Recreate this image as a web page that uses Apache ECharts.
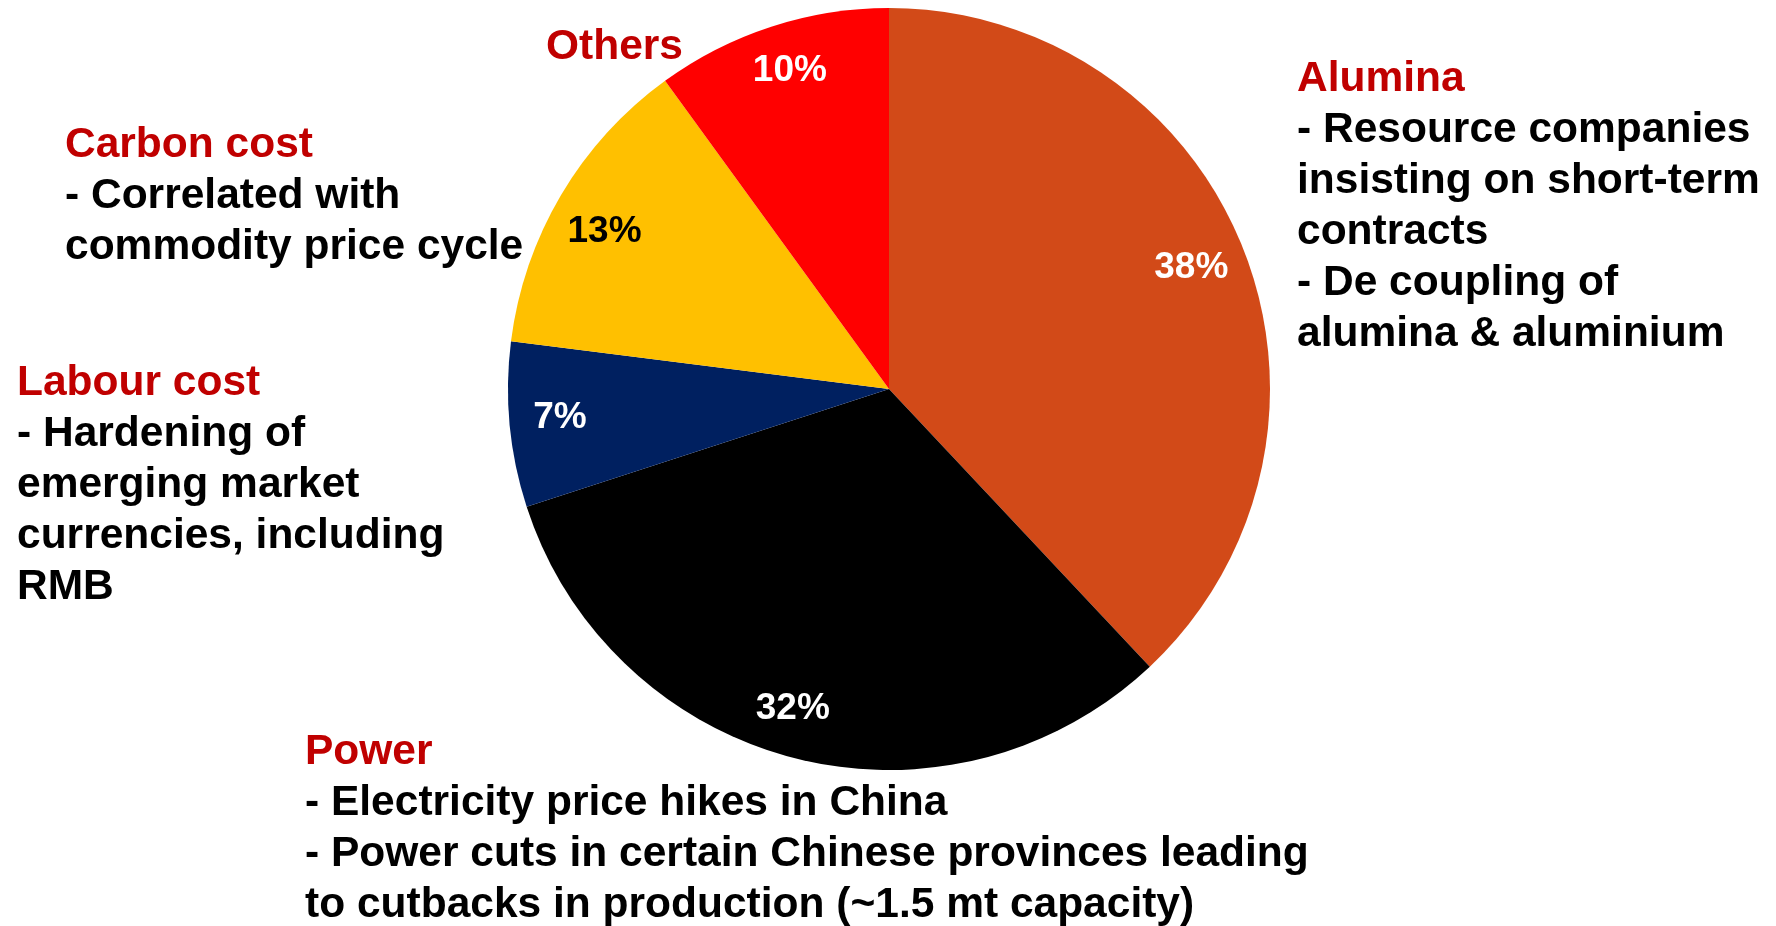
<!DOCTYPE html>
<html>
<head>
<meta charset="utf-8">
<script src="https://cdn.jsdelivr.net/npm/echarts@6/dist/echarts.min.js"></script>
<style>
  html, body { margin: 0; padding: 0; background: #ffffff; }
  #chart { width: 1776px; height: 926px; }
</style>
</head>
<body>
<div id="chart"></div>
<script>
// Cost drivers, share of total (%), clockwise from 12 o'clock
const categories = ['Alumina', 'Power', 'Labour cost', 'Carbon cost', 'Others'];
const shares = [38, 32, 7, 13, 10];

// Annotation text for each driver: heading and its bullet lines
const aluminaNotes = ['- Resource companies', 'insisting on short-term', 'contracts', '- De coupling of', 'alumina & aluminium'];
const powerNotes = ['- Electricity price hikes in China', '- Power cuts in certain Chinese provinces leading', 'to cutbacks in production (~1.5 mt capacity)'];
const labourNotes = ['- Hardening of', 'emerging market', 'currencies, including', 'RMB'];
const carbonNotes = ['- Correlated with', 'commodity price cycle'];
const othersNotes = [];

// Styling
const sliceColors = ['#D24A18', '#000000', '#002060', '#FFC000', '#FF0000'];
const labelColors = ['#ffffff', '#ffffff', '#ffffff', '#000000', '#ffffff'];
const labelNudge = [[-5, 0], [-14, 0], [0, -2], [0, 11], [3, -4]];
const FONT = '"Liberation Sans", Arial, Helvetica, sans-serif';
const CENTER = [889, 389];
const R = 381;

const chart = echarts.init(document.getElementById('chart'), null, { renderer: 'canvas' });

const sliceData = categories.map((name, i) => ({
  name,
  value: shares[i],
  itemStyle: { color: sliceColors[i] }
}));

const labelData = categories.map((name, i) => ({
  name,
  value: shares[i],
  label: { color: labelColors[i], offset: labelNudge[i] }
}));

function noteBlock(title, lines, x, y) {
  const text = ['{t|' + title + '}'].concat(lines.map(l => '{b|' + l + '}')).join('\n');
  return {
    type: 'text',
    left: x,
    top: y,
    silent: true,
    style: {
      text,
      font: 'bold 42.5px ' + FONT,
      rich: {
        t: { fontFamily: FONT, fontWeight: 'bold', fontSize: 42.5, lineHeight: 51, fill: '#C00000' },
        b: { fontFamily: FONT, fontWeight: 'bold', fontSize: 42.5, lineHeight: 51, fill: '#000000' }
      }
    }
  };
}

chart.setOption({
  backgroundColor: '#ffffff',
  animation: false,
  series: [
    {
      // the pie slices
      type: 'pie',
      center: CENTER,
      radius: [0, R],
      startAngle: 90,
      clockwise: true,
      silent: true,
      label: { show: false },
      labelLine: { show: false },
      itemStyle: { borderWidth: 0 },
      emphasis: { disabled: true },
      data: sliceData
    },
    {
      // transparent ring that carries the percentage labels near the rim
      type: 'pie',
      center: CENTER,
      radius: [Math.round(R * 0.72), R],
      startAngle: 90,
      clockwise: true,
      silent: true,
      itemStyle: { color: 'rgba(0,0,0,0)', borderWidth: 0 },
      labelLine: { show: false },
      emphasis: { disabled: true },
      label: {
        show: true,
        position: 'inside',
        formatter: p => p.value + '%',
        fontFamily: FONT,
        fontWeight: 'bold',
        fontSize: 37
      },
      data: labelData
    }
  ],
  graphic: [
    noteBlock('Alumina', aluminaNotes, 1297, 58),
    noteBlock('Carbon cost', carbonNotes, 65, 124),
    noteBlock('Labour cost', labourNotes, 17, 362),
    noteBlock('Others', othersNotes, 546, 26),
    noteBlock('Power', powerNotes, 305, 731)
  ]
});
</script>
</body>
</html>
